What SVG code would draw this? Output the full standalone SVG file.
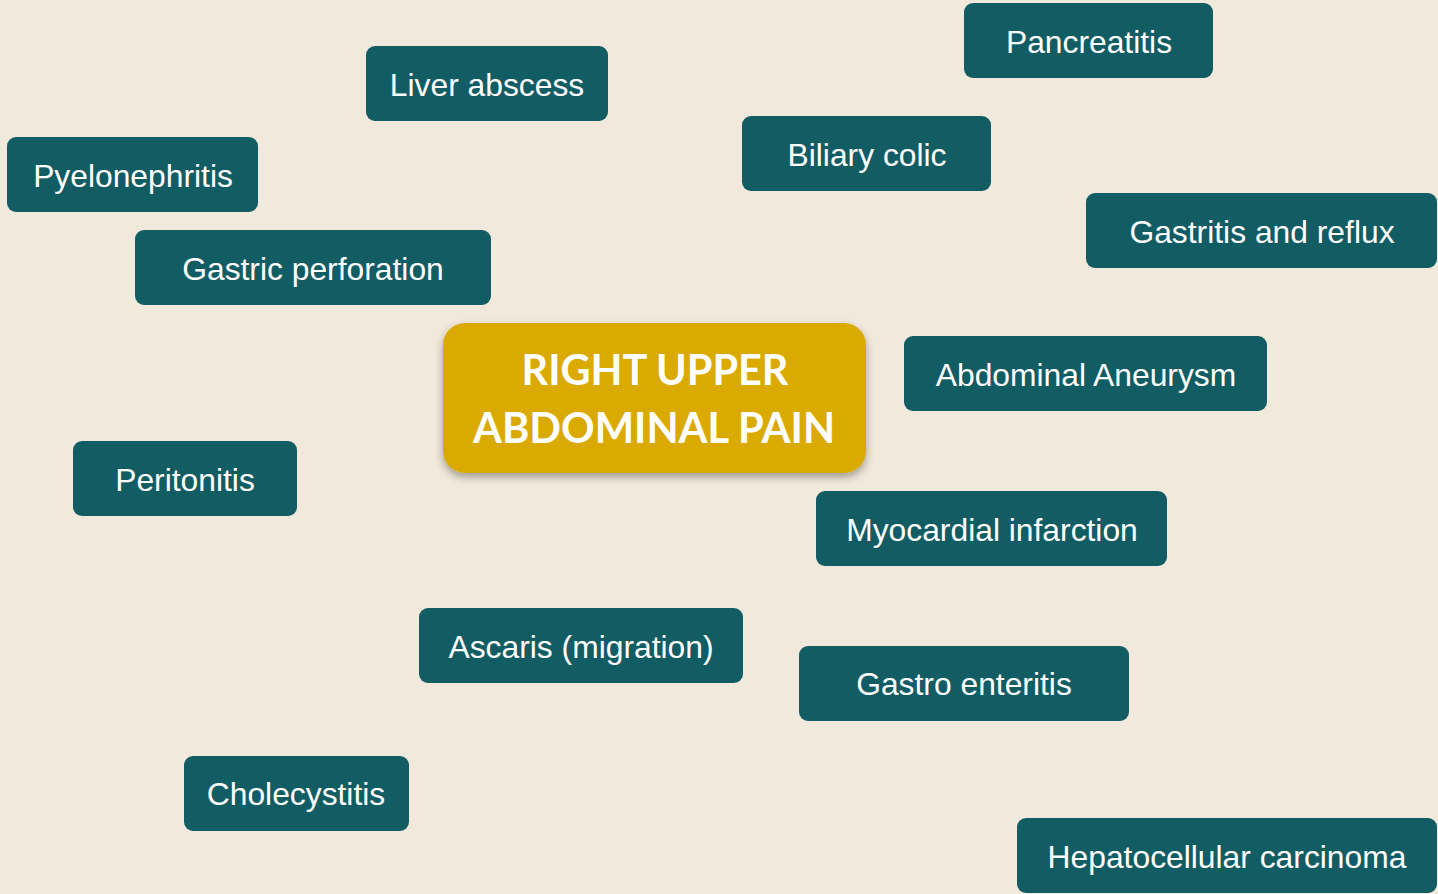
<svg xmlns="http://www.w3.org/2000/svg" width="1438" height="894" viewBox="0 0 1438 894">
<defs>
<style>
.n{fill:#125C64;}
.t{font-family:"Liberation Sans",Arial,sans-serif;font-size:31.8px;fill:#FFFFFF;text-anchor:middle;}
.c{font-family:Lato,"Open Sans",sans-serif;font-weight:bold;font-size:42px;fill:#FFFFFF;text-anchor:middle;}
</style>
<filter id="sh" x="-10%" y="-10%" width="120%" height="130%">
<feDropShadow dx="0" dy="4" stdDeviation="4" flood-color="#000" flood-opacity="0.35"/>
</filter>
</defs>
<rect width="1438" height="894" fill="#F1E9DB"/>
<g id="connectors"></g>
<g id="center">
<rect x="443" y="323" width="423" height="150" rx="22" fill="#DAAA00" filter="url(#sh)"/>
<text class="c" x="655" y="385" textLength="267" lengthAdjust="spacingAndGlyphs">RIGHT UPPER</text>
<text class="c" x="654" y="443" textLength="362" lengthAdjust="spacingAndGlyphs">ABDOMINAL PAIN</text>
</g>
<g id="liver"><rect class="n" x="366" y="46" width="242" height="75" rx="9"/><text class="t" x="487" y="96">Liver abscess</text></g>
<g id="pancreatitis"><rect class="n" x="964" y="3" width="249" height="75" rx="9"/><text class="t" x="1089" y="53">Pancreatitis</text></g>
<g id="pyelonephritis"><rect class="n" x="7" y="137" width="251" height="75" rx="9"/><text class="t" x="133" y="187">Pyelonephritis</text></g>
<g id="biliary"><rect class="n" x="742" y="116" width="249" height="75" rx="9"/><text class="t" x="867" y="166">Biliary colic</text></g>
<g id="gastritis"><rect class="n" x="1086" y="193" width="351" height="75" rx="9"/><text class="t" x="1262" y="243">Gastritis and reflux</text></g>
<g id="perforation"><rect class="n" x="135" y="230" width="356" height="75" rx="9"/><text class="t" x="313" y="280">Gastric perforation</text></g>
<g id="aneurysm"><rect class="n" x="904" y="336" width="363" height="75" rx="9"/><text class="t" x="1086" y="386">Abdominal Aneurysm</text></g>
<g id="peritonitis"><rect class="n" x="73" y="441" width="224" height="75" rx="9"/><text class="t" x="185" y="491">Peritonitis</text></g>
<g id="mi"><rect class="n" x="816" y="491" width="351" height="75" rx="9"/><text class="t" x="992" y="541">Myocardial infarction</text></g>
<g id="ascaris"><rect class="n" x="419" y="608" width="324" height="75" rx="9"/><text class="t" x="581" y="658">Ascaris (migration)</text></g>
<g id="gastroenteritis"><rect class="n" x="799" y="646" width="330" height="75" rx="9"/><text class="t" x="964" y="695">Gastro enteritis</text></g>
<g id="cholecystitis"><rect class="n" x="184" y="756" width="225" height="75" rx="9"/><text class="t" x="296" y="805">Cholecystitis</text></g>
<g id="hcc"><rect class="n" x="1017" y="818" width="420" height="75" rx="9"/><text class="t" x="1227" y="868">Hepatocellular carcinoma</text></g>
</svg>
